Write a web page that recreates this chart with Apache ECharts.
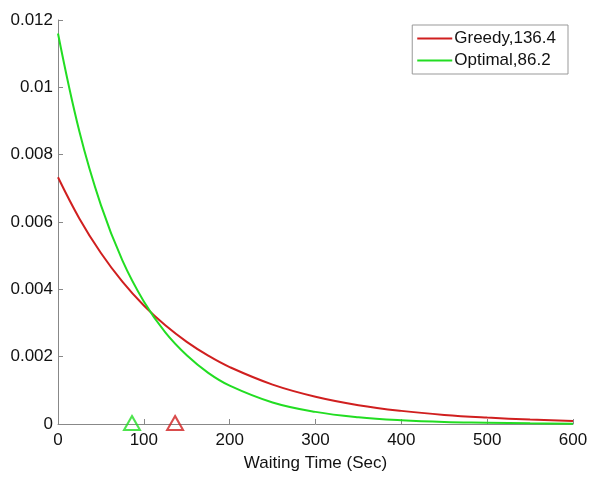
<!DOCTYPE html>
<html>
<head>
<meta charset="utf-8">
<script src="https://cdn.jsdelivr.net/npm/echarts@6/dist/echarts.min.js"></script>
<style>
  html, body { margin: 0; padding: 0; background: #fff; }
  #chart { width: 597px; height: 477px; }
</style>
</head>
<body>
<div id="chart"></div>
<script>
// Waiting time samples (seconds)
const waitTimes = [0, 25, 50, 75, 100, 125, 150, 175, 200, 250, 300, 350, 400, 450, 500, 550, 600];

// Density of waiting time for each policy
const greedyDensity = [0.00733, 0.00610, 0.00508, 0.00423, 0.00352, 0.00293, 0.00244, 0.00203, 0.00169,
                       0.00117, 0.00081, 0.00056, 0.00039, 0.00027, 0.00019, 0.00013, 0.00009];
const optimalDensity = [0.01160, 0.00868, 0.00650, 0.00486, 0.00364, 0.00272, 0.00204, 0.00152, 0.00114,
                        0.00064, 0.00036, 0.00020, 0.00011, 0.00006, 0.00004, 0.00002, 0.00001];

// Mean waiting times
const greedyMean = 136.4;
const optimalMean = 86.2;

const seriesNames = ['Greedy,' + greedyMean, 'Optimal,' + optimalMean];
const xTicks = [0, 100, 200, 300, 400, 500, 600];

const RED = '#d01f1f';
const GREEN = '#22dd22';
const FONT = 'Liberation Sans, Arial, sans-serif';

const pairs = (xs, ys) => xs.map((x, i) => [x, ys[i]]);

const chart = echarts.init(document.getElementById('chart'));
chart.setOption({
  animation: false,
  backgroundColor: '#ffffff',
  textStyle: { fontFamily: FONT },
  grid: { left: 58, right: 24, top: 20, bottom: 52, containLabel: false },
  legend: {
    data: seriesNames,
    orient: 'vertical',
    right: 29,
    top: 25,
    padding: [5, 12, 5, 5],
    itemGap: 5,
    itemWidth: 35,
    itemHeight: 2,
    icon: 'rect',
    borderColor: '#999',
    borderWidth: 1,
    backgroundColor: '#fff',
    textStyle: { fontFamily: FONT, fontSize: 17, color: '#111', padding: [0, 0, 0, -3], lineHeight: 17 }
  },
  xAxis: {
    type: 'value',
    min: xTicks[0],
    max: xTicks[xTicks.length - 1],
    interval: 100,
    name: 'Waiting Time (Sec)',
    nameLocation: 'middle',
    nameGap: 31,
    nameTextStyle: { fontFamily: FONT, fontSize: 17, color: '#111' },
    axisLine: { lineStyle: { color: '#888', width: 1 } },
    axisTick: { inside: true, length: 5, lineStyle: { color: '#888' } },
    axisLabel: { fontFamily: FONT, fontSize: 17, color: '#111', margin: 8 },
    splitLine: { show: false }
  },
  yAxis: {
    type: 'value',
    min: 0,
    max: 0.012,
    interval: 0.002,
    axisLine: { show: true, lineStyle: { color: '#888', width: 1 } },
    axisTick: { show: true, inside: true, length: 5, lineStyle: { color: '#888' } },
    axisLabel: { fontFamily: FONT, fontSize: 17, color: '#111', margin: 5 },
    splitLine: { show: false }
  },
  series: [
    {
      name: seriesNames[0],
      type: 'line',
      data: pairs(waitTimes, greedyDensity),
      smooth: 0.4,
      symbol: 'none',
      lineStyle: { color: RED, width: 2 },
      itemStyle: { color: RED }
    },
    {
      name: seriesNames[1],
      type: 'line',
      data: pairs(waitTimes, optimalDensity),
      smooth: 0.4,
      symbol: 'none',
      lineStyle: { color: GREEN, width: 2 },
      itemStyle: { color: GREEN }
    },
    {
      name: 'greedy-mean',
      type: 'scatter',
      data: [[greedyMean, 0]],
      symbol: 'triangle',
      symbolSize: [16, 14],
      symbolOffset: [0, -1],
      clip: false,
      itemStyle: { color: 'rgba(0,0,0,0)', borderColor: RED, borderWidth: 2 },
      z: 5
    },
    {
      name: 'optimal-mean',
      type: 'scatter',
      data: [[optimalMean, 0]],
      symbol: 'triangle',
      symbolSize: [16, 14],
      symbolOffset: [0, -1],
      clip: false,
      itemStyle: { color: 'rgba(0,0,0,0)', borderColor: GREEN, borderWidth: 2 },
      z: 5
    }
  ]
});
</script>
</body>
</html>
